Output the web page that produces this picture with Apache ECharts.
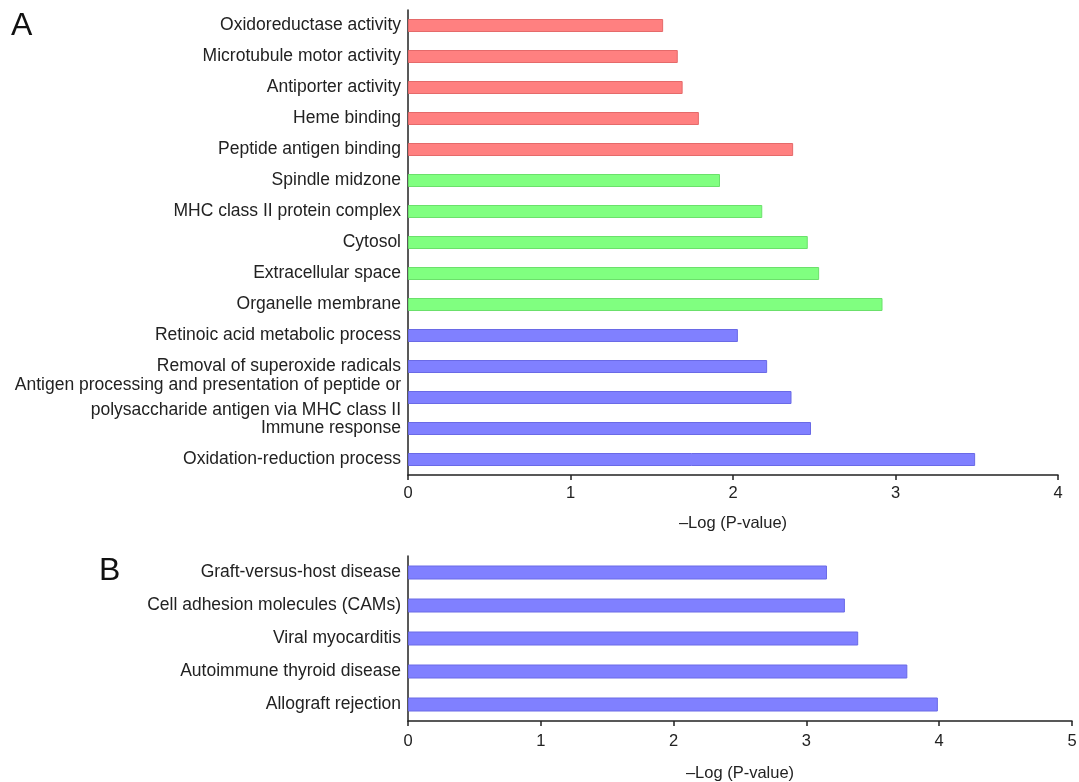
<!DOCTYPE html>
<html>
<head>
<meta charset="utf-8">
<script src="https://cdn.jsdelivr.net/npm/echarts@6/dist/echarts.min.js"></script>
<style>
html,body{margin:0;padding:0;background:#fff;}
#chart{width:1079px;height:782px;}
</style>
</head>
<body>
<div id="chart"></div>
<script>
// Panel A (GO terms), listed top to bottom
const categoriesA = [
  "Oxidoreductase activity",
  "Microtubule motor activity",
  "Antiporter activity",
  "Heme binding",
  "Peptide antigen binding",
  "Spindle midzone",
  "MHC class II protein complex",
  "Cytosol",
  "Extracellular space",
  "Organelle membrane",
  "Retinoic acid metabolic process",
  "Removal of superoxide radicals",
  "Antigen processing and presentation of peptide or\npolysaccharide antigen via MHC class II",
  "Immune response",
  "Oxidation-reduction process"
];
const valuesA = [1.57, 1.66, 1.69, 1.79, 2.37, 1.92, 2.18, 2.46, 2.53, 2.92, 2.03, 2.21, 2.36, 2.48, 3.49];
const groupsA = ["MF","MF","MF","MF","MF","CC","CC","CC","CC","CC","BP","BP","BP","BP","BP"];

// Panel B (KEGG pathways), listed top to bottom
const categoriesB = [
  "Graft-versus-host disease",
  "Cell adhesion molecules (CAMs)",
  "Viral myocarditis",
  "Autoimmune thyroid disease",
  "Allograft rejection"
];
const valuesB = [3.155, 3.29, 3.39, 3.76, 3.99];

const ticksA = [0, 1, 2, 3, 4];
const ticksB = [0, 1, 2, 3, 4, 5];
const axisTitle = "\u2013Log (P-value)";

const palette = {
  MF: {fill: "#ff8080", border: "#e56a6a"},
  CC: {fill: "#80ff80", border: "#6be06b"},
  BP: {fill: "#8080ff", border: "#6a6ae6"}
};

const font = "Liberation Sans, Arial, Helvetica, sans-serif";

const chart = echarts.init(document.getElementById('chart'), null, {renderer: 'canvas'});

function xAxisCfg(gridIndex, max, gap, margin) {
  return {
    type: 'value', gridIndex: gridIndex, min: 0, max: max, interval: 1,
    name: axisTitle, nameLocation: 'middle', nameGap: gap,
    nameTextStyle: {fontFamily: font, fontSize: 16.5, color: '#222'},
    axisLine: {show: true, lineStyle: {color: '#222', width: 1.5}},
    axisTick: {show: true, length: 5, lineStyle: {color: '#222', width: 1.5}},
    axisLabel: {fontFamily: font, fontSize: 16.5, color: '#222', margin: margin},
    splitLine: {show: false}
  };
}
function yAxisCfg(gridIndex, cats) {
  return {
    type: 'category', gridIndex: gridIndex, data: cats, inverse: true,
    axisLine: {show: true, lineStyle: {color: '#222', width: 1.5}},
    axisTick: {show: false},
    axisLabel: {fontFamily: font, fontSize: 17.5, color: '#222', margin: 7, lineHeight: 25, align: 'right'}
  };
}

chart.setOption({
  animation: false,
  backgroundColor: '#ffffff',
  grid: [
    {left: 408, right: 21, top: 10, height: 465, outerBoundsMode: 'none', containLabel: false},
    {left: 408, right: 7, top: 556, height: 165, outerBoundsMode: 'none', containLabel: false}
  ],
  xAxis: [xAxisCfg(0, ticksA[ticksA.length - 1], 40, 10), xAxisCfg(1, ticksB[ticksB.length - 1], 44, 12)],
  yAxis: [yAxisCfg(0, categoriesA), yAxisCfg(1, categoriesB)],
  graphic: [
    {type: 'text', left: 11, top: 10, style: {text: 'A', fontFamily: font, fontSize: 32, fill: '#111'}},
    {type: 'text', left: 99, top: 555, style: {text: 'B', fontFamily: font, fontSize: 32, fill: '#111'}}
  ],
  series: [
    {
      type: 'bar', xAxisIndex: 0, yAxisIndex: 0, barWidth: 13,
      data: valuesA.map((v, i) => ({
        value: v,
        itemStyle: {color: palette[groupsA[i]].fill, borderColor: palette[groupsA[i]].border, borderWidth: 1}
      }))
    },
    {
      type: 'bar', xAxisIndex: 1, yAxisIndex: 1, barWidth: 14,
      data: valuesB.map(v => ({
        value: v,
        itemStyle: {color: palette.BP.fill, borderColor: palette.BP.border, borderWidth: 1}
      }))
    }
  ]
});
</script>
</body>
</html>
